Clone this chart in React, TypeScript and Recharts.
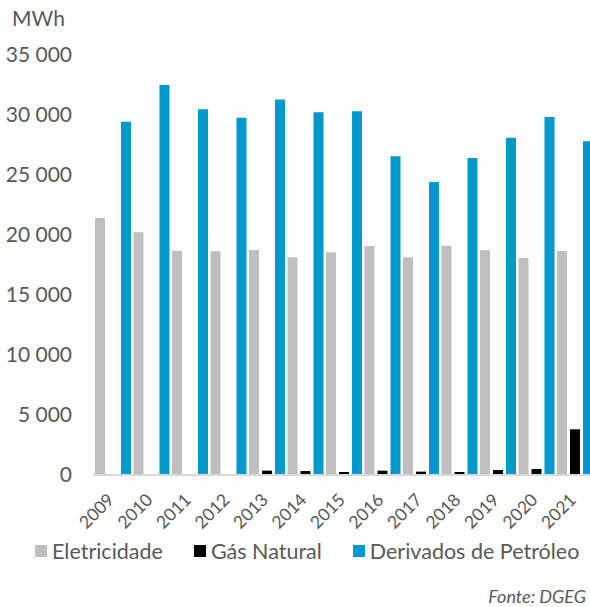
import React from 'react';
import { BarChart, Bar, XAxis, YAxis } from 'recharts';

const years = ['2009', '2010', '2011', '2012', '2013', '2014', '2015', '2016', '2017', '2018', '2019', '2020', '2021'];
const eletricidade = [21420, 20220, 18690, 18640, 18750, 18140, 18560, 19080, 18140, 19110, 18720, 18080, 18670];
const gasNatural = [0, 0, 0, 0, 360, 330, 250, 360, 280, 250, 420, 500, 3810];
const derivados = [29440, 32500, 30470, 29780, 31300, 30220, 30310, 26560, 24420, 26420, 28110, 29830, 27810];
const yTicks = [0, 5000, 10000, 15000, 20000, 25000, 30000, 35000];

const data = years.map((year, i) => ({
  year,
  eletricidade: eletricidade[i],
  gasNatural: gasNatural[i],
  derivados: derivados[i],
}));

const FONT = 'Lato, sans-serif';
const TEXT = '#595959';

const series = [
  { key: 'eletricidade', name: 'Eletricidade', color: '#bfbfbf' },
  { key: 'gasNatural', name: 'Gás Natural', color: '#000000' },
  { key: 'derivados', name: 'Derivados de Petróleo', color: '#0099cc' },
];

const fmt = (v: number) => String(v).replace(/\B(?=(\d{3})+(?!\d))/g, ' ');

const YearTick = (props: any) => {
  const { x, y, payload } = props;
  const ax = x + 3;
  return (
    <text
      x={ax}
      y={y}
      textAnchor="end"
      fill={TEXT}
      fontSize={17.5}
      fontFamily={FONT}
      transform={`rotate(-45, ${ax}, ${y})`}
    >
      {payload.value}
    </text>
  );
};

export default function App() {
  return (
    <div style={{ position: 'absolute', left: 0, top: 0, width: 590, height: 607, overflow: 'hidden', background: '#fff' }}>
      <svg width={200} height={40} style={{ position: 'absolute', left: 0, top: 0 }}>
        <text x={12} y={26} fontSize={21} fontFamily={FONT} fill={TEXT}>MWh</text>
      </svg>
      <div style={{ position: 'absolute', left: 0, top: 0 }}>
        <BarChart
          width={600}
          height={607}
          data={data}
          margin={{ top: 55, right: 6.5, bottom: 102, left: 0 }}
          barGap={3}
          barCategoryGap={2}
        >
          <XAxis
            dataKey="year"
            height={30}
            interval={0}
            tickLine={false}
            tickSize={0}
            tickMargin={26}
            axisLine={{ stroke: '#d9d9d9', strokeWidth: 2 }}
            tick={<YearTick />}
          />
          <YAxis
            width={93}
            domain={[0, 35000]}
            ticks={yTicks}
            interval={0}
            axisLine={false}
            tickLine={false}
            tickSize={0}
            tickMargin={21}
            tickFormatter={fmt}
            tick={{ fill: TEXT, fontSize: 21, fontFamily: FONT }}
          />
          {series.map((s) => (
            <Bar key={s.key} dataKey={s.key} name={s.name} fill={s.color} isAnimationActive={false} />
          ))}
        </BarChart>
      </div>
      <div
        style={{
          position: 'absolute', left: 35, top: 539, display: 'flex', gap: 31,
          fontFamily: FONT, fontSize: 21.5, color: TEXT, lineHeight: '24px', whiteSpace: 'nowrap',
        }}
      >
        {series.map((s) => (
          <div key={s.key} style={{ display: 'flex', alignItems: 'center' }}>
            <span style={{ width: 12, height: 12, background: s.color, marginRight: 5, display: 'inline-block' }} />
            {s.name}
          </div>
        ))}
      </div>
      <svg width={590} height={607} style={{ position: 'absolute', left: 0, top: 0, pointerEvents: 'none' }}>
        <text x={586} y={603} fontSize={18} fontFamily={FONT} fontStyle="italic" fill={TEXT} textAnchor="end">Fonte: DGEG</text>
      </svg>
    </div>
  );
}
